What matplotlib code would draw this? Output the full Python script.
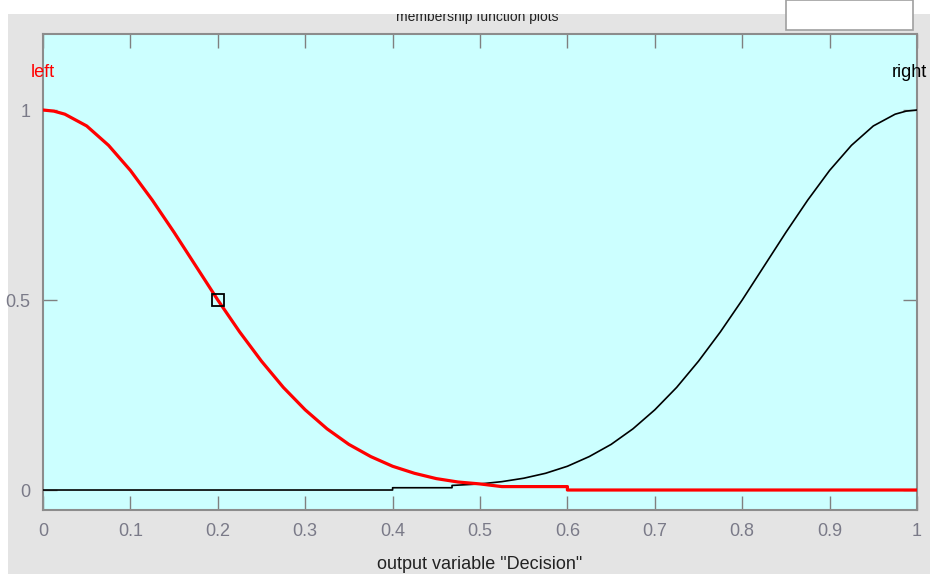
import matplotlib.pyplot as plt
from matplotlib.patches import Rectangle

# membership function values
left_x = [0.0, 0.0125, 0.025, 0.05, 0.075, 0.1, 0.125, 0.15, 0.175, 0.2, 0.225, 0.25,
          0.275, 0.3, 0.325, 0.35, 0.375, 0.4, 0.425, 0.45, 0.475, 0.5, 0.525,
          0.6, 0.6, 1.0]
left_y = [1.0, 0.997, 0.989, 0.958, 0.907, 0.841, 0.763, 0.678, 0.589, 0.5, 0.416, 0.339,
          0.27, 0.211, 0.161, 0.12, 0.088, 0.0625, 0.044, 0.03, 0.021, 0.016, 0.009,
          0.009, 0.0, 0.0]

right_x = [0.0, 0.4, 0.4, 0.468, 0.468, 0.5, 0.525, 0.55, 0.575, 0.6, 0.625, 0.65,
           0.675, 0.7, 0.725, 0.75, 0.775, 0.8, 0.825, 0.85, 0.875, 0.9, 0.925,
           0.95, 0.975, 0.9875, 1.0]
right_y = [0.0, 0.0, 0.006, 0.006, 0.012, 0.016, 0.022, 0.031, 0.044, 0.0625, 0.088,
           0.12, 0.161, 0.211, 0.27, 0.339, 0.416, 0.5, 0.589, 0.678, 0.763, 0.841,
           0.907, 0.958, 0.989, 0.997, 1.0]

mf_names = ['left', 'right']
mf_peaks = [0.0, 1.0]
mf_colors = ['red', 'black']
selected = (0.2, 0.5)

x_ticks = [0, 0.1, 0.2, 0.3, 0.4, 0.5, 0.6, 0.7, 0.8, 0.9, 1]
x_tick_labels = ['0', '0.1', '0.2', '0.3', '0.4', '0.5', '0.6', '0.7', '0.8', '0.9', '1']
y_ticks = [0, 0.5, 1]
y_tick_labels = ['0', '0.5', '1']

plt.rcParams['font.family'] = ['Liberation Sans', 'DejaVu Sans']

W, H = 930, 574
fig = plt.figure(figsize=(W / 100, H / 100), dpi=100, facecolor='white')

# gray window background, title and the white strip that cuts it
fig.patches.append(Rectangle((8 / W, 0), 1, (H - 14) / H, transform=fig.transFigure,
                             facecolor='#e4e4e4', edgecolor='none', zorder=-10))
fig.text(477 / W, (H - 17) / H, 'membership function plots', ha='center', va='center',
         fontsize=10, color='#222222', zorder=-5)
fig.patches.append(Rectangle((0, (H - 14) / H), 1, 14 / H, transform=fig.transFigure,
                             facecolor='white', edgecolor='none', zorder=-4))
fig.patches.append(Rectangle((786 / W, (H - 30) / H), 127 / W, 30 / H,
                             transform=fig.transFigure, facecolor='white',
                             edgecolor='#a0a0a0', linewidth=1.2, zorder=-3))

ax = fig.add_axes([43 / W, (H - 510) / H, 874 / W, 476 / H])
ax.set_facecolor('#ccffff')

ax.plot(right_x, right_y, color='black', linewidth=1.2, zorder=3)
ax.plot(left_x, left_y, color='red', linewidth=2.3, zorder=4)
ax.plot([selected[0]], [selected[1]], marker='s', markersize=8, markerfacecolor='none',
        markeredgecolor='black', markeredgewidth=1.3, zorder=5)

for name, peak, col in zip(mf_names, mf_peaks, mf_colors):
    ha = 'right' if peak == 1.0 else 'center'
    xpos = peak + 0.012 if peak == 1.0 else peak
    ax.text(xpos, 1.1, name, color=col, ha=ha, va='center', fontsize=13,
            clip_on=False)

ax.set_xlim(0, 1)
ax.set_ylim(-0.0526, 1.2)
ax.set_xticks(x_ticks)
ax.set_xticklabels(x_tick_labels)
ax.set_yticks(y_ticks)
ax.set_yticklabels(y_tick_labels)
ax.tick_params(direction='in', length=10, width=1, color='#808080', labelcolor='#7a7a88',
               labelsize=13, top=True, right=True, pad=9)
for s in ax.spines.values():
    s.set_color('#8c8c8c')
    s.set_linewidth(1.5)

ax.set_xlabel('output variable "Decision"', fontsize=13, color='#222222', labelpad=12)

fig.savefig('out.png', dpi=100, facecolor=fig.get_facecolor())
